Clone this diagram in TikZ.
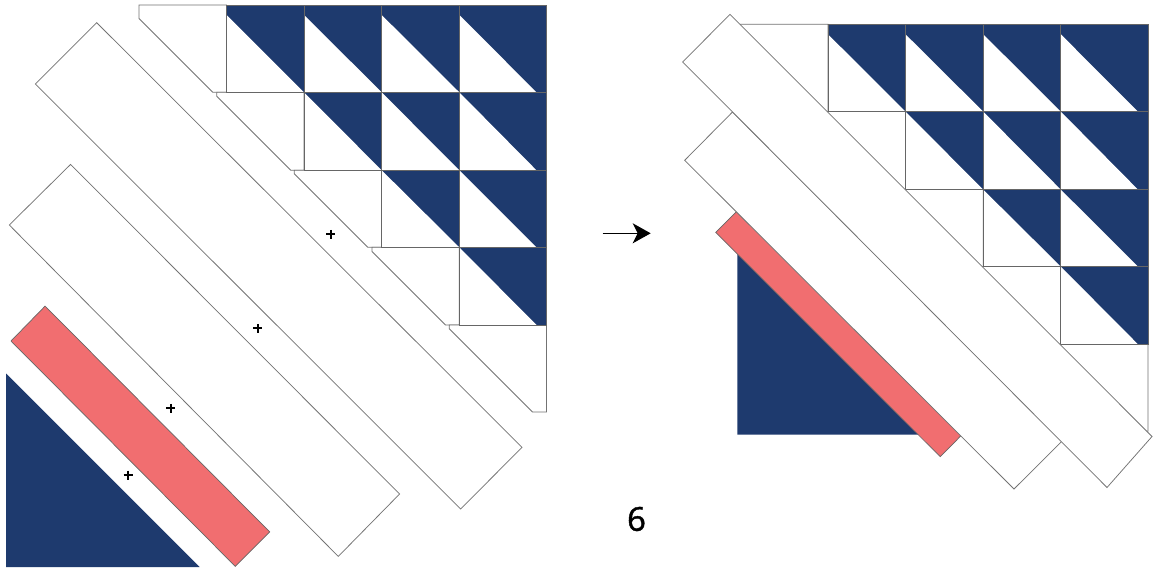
\documentclass[tikz,border=0pt]{standalone}
\usepackage{fontspec}
\setmainfont{Open Sans}
\newfontfamily\numfont[FakeBold=1.3]{Open Sans}
\usetikzlibrary{arrows.meta}
\definecolor{navy}{RGB}{30,58,110}
\definecolor{salmon}{RGB}{241,110,112}
\begin{document}
\begin{tikzpicture}[x=1pt,y=-1pt,
  strip/.style={fill=white,draw=black!55,line width=0.75pt,line join=miter},
  piece/.style={fill=white,draw=black!55,line width=0.75pt},
  gridline/.style={draw=black!60,line width=0.8pt},
  redstrip/.style={fill=salmon,draw=black!60,line width=0.7pt},
  darktri/.style={fill=navy},
  plusmark/.style={line width=1.7pt,draw=black}]
\useasboundingbox (0,0) rectangle (1153,569);
\fill[white] (0,0) rectangle (1153,569);

% ---------- block (left, exploded) and (right, assembled) ----------
\foreach \dx/\dy in {0/0, 601.5/-19.3}{
\begin{scope}[xshift=\dx pt, yshift=\dy pt]
  \foreach \xl/\xr/\yt/\yb in {139/226.5/5/92.3, 216.7/304/92.3/170.3, 294.3/381.7/170.3/247.3, 372/459.3/247.3/325, 449.3/546.5/325/412}
    \draw[piece] (\xl,\yt) -- (\xr,\yt) -- (\xr,\yb) -- ({\yb+120.5},\yb) -- (\xl,{\xl-120.5}) -- cycle;
  \foreach \xa/\xb/\ya/\yb/\t/\s in {
      226.5/304/5/92.3/10/0, 304/381.7/5/92.3/10/0, 381.7/459.3/5/92.3/10/0, 459.3/546.5/5/92.3/10/10,
      304/381.7/92.3/170.3/0/0, 381.7/459.3/92.3/170.3/0/0, 459.3/546.5/92.3/170.3/0/10,
      381.7/459.3/170.3/247.3/0/0, 459.3/546.5/170.3/247.3/0/10,
      459.3/546.5/247.3/325/0/10}{
    \fill[navy] (\xa,\ya) rectangle (\xb,\yb);
    \fill[white] (\xa,{\ya+\t}) -- (\xa,\yb) -- ({\xb-\s},\yb) -- cycle;
    \draw[gridline] (\xa,\ya) rectangle (\xb,\yb);
  }
\end{scope}}

% ---------- left panel strips ----------
\draw[strip] (96.7,22.7) -- (522,447.3) -- (460.7,509) -- (35.3,84) -- cycle;
\draw[strip] (70.6,164.4) -- (399.6,494) -- (338.3,556.4) -- (9.3,225) -- cycle;
\draw[redstrip] (45.1,306.1) -- (269.7,531.9) -- (235.3,566.4) -- (11,341) -- cycle;
\fill[darktri] (6.2,373.5) -- (6.2,567) -- (199.7,567) -- cycle;

% seam marks
\foreach \px/\py in {330.7/234.3, 257.7/328.3, 170.7/408.3, 128/475}{
  \draw[plusmark] ({\px-4.5},\py) -- ({\px+4.5},\py);
  \draw[plusmark] (\px,{\py-4.5}) -- (\px,{\py+4.5});
}

% ---------- right panel strips ----------
\fill[darktri] (737.3,240) -- (737.3,434.5) -- (932,434.5) -- cycle;
\draw[redstrip] (736.5,211.5) -- (961,435.7) -- (940.2,456.7) -- (715.7,232.3) -- cycle;
\draw[strip] (732.5,112) -- (1061.8,441.3) -- (1014,489) -- (684.7,160.3) -- cycle;
\draw[strip] (730,14.3) -- (1152,436.5) -- (1107,487.5) -- (682.7,62) -- cycle;

% ---------- arrow and step number ----------
\coordinate (arrS) at (602.7,233.3);
\coordinate (arrE) at (650.7,233.3);
\draw[line width=1.3pt,-{Stealth[length=18pt,width=20pt,inset=5pt]}] (arrS) -- (arrE);
\node[inner sep=0pt] (num) at (636.5,519) {\numfont\fontsize{33}{40}\selectfont 6};
\end{tikzpicture}
\end{document}
